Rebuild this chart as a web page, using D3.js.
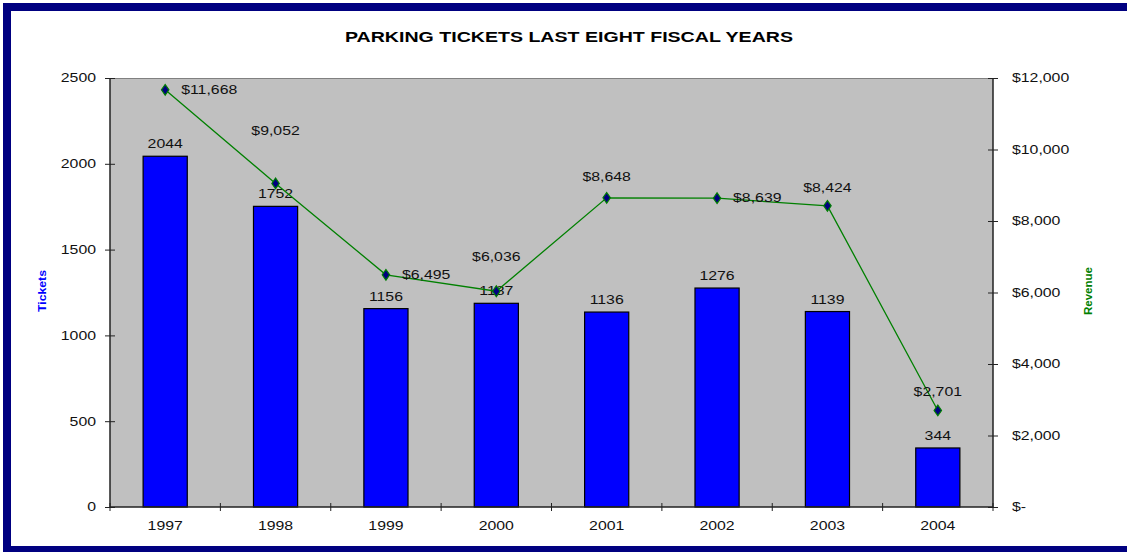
<!DOCTYPE html>
<html>
<head>
<meta charset="utf-8">
<script src="https://cdn.jsdelivr.net/npm/d3@7"></script>
<style>
  html, body { margin: 0; padding: 0; background: #fff; }
  svg { display: block; font-family: Arial, "Liberation Sans", sans-serif; }
</style>
</head>
<body>
<div id="chart"></div>
<script>
// Chart data
const years = ['1997', '1998', '1999', '2000', '2001', '2002', '2003', '2004'];
const tickets = [2044, 1752, 1156, 1187, 1136, 1276, 1139, 344];
const revenue = [11668, 9052, 6495, 6036, 8648, 8639, 8424, 2701];
const ticketTicks = [0, 500, 1000, 1500, 2000, 2500];
const revenueTicks = [0, 2000, 4000, 6000, 8000, 10000, 12000];

// Where each revenue label sits relative to its point
const revLabelPlace = ['right', 'above', 'right', 'above', 'above', 'right', 'above', 'above'];
const revLabelLift = [0, 53, 0, 34, 21, 0, 18, 19];

const W = 1127, H = 552;
const margin = { top: 78, right: 134, bottom: 45, left: 110 };
const plotW = W - margin.left - margin.right;
const plotH = H - margin.top - margin.bottom;

// the original picture is stretched sideways, so text is widened to match
const SX = 1.32;
const FS = '12px';

function stretch(sel, sx) {
    sel.each(function() {
        const t = d3.select(this);
        const x0 = +t.attr('x') || 0;
        const y0 = +t.attr('y') || 0;
        t.attr('x', 0).attr('y', 0)
            .attr('transform', `translate(${x0},${y0}) scale(${sx},1)`);
    });
}

const svg = d3.select('#chart')
    .append('svg')
    .attr('width', W)
    .attr('height', H);

// Navy frame
svg.append('rect')
    .attr('x', 7).attr('y', 7)
    .attr('width', W + 10).attr('height', H - 9)
    .attr('fill', '#fff')
    .attr('stroke', '#000080')
    .attr('stroke-width', 8);

// Title
svg.append('text')
    .attr('x', 569).attr('y', 42)
    .attr('text-anchor', 'middle')
    .attr('font-size', '14px')
    .attr('font-weight', 'bold')
    .attr('fill', '#000')
    .attr('textLength', 448)
    .attr('lengthAdjust', 'spacingAndGlyphs')
    .text('PARKING TICKETS LAST EIGHT FISCAL YEARS');

const g = svg.append('g')
    .attr('transform', `translate(${margin.left},${margin.top})`);

// Scales
const x = d3.scaleBand()
    .domain(years)
    .range([0, plotW])
    .paddingInner(0.6)
    .paddingOuter(0.3);

const yT = d3.scaleLinear().domain([0, 2500]).range([plotH, 0]);
const yR = d3.scaleLinear().domain([0, 12000]).range([plotH, 0]);

// Plot background
g.append('rect')
    .attr('width', plotW)
    .attr('height', plotH)
    .attr('fill', '#c0c0c0');

g.append('line')
    .attr('x1', 0).attr('x2', plotW)
    .attr('y1', 0.5).attr('y2', 0.5)
    .attr('stroke', '#808080')
    .attr('stroke-width', 1);

// Bars
g.selectAll('.bar')
    .data(tickets)
    .enter()
    .append('rect')
    .attr('class', 'bar')
    .attr('x', (d, i) => x(years[i]))
    .attr('y', d => yT(d))
    .attr('width', x.bandwidth())
    .attr('height', d => plotH - yT(d))
    .attr('fill', '#0000ff')
    .attr('stroke', '#000')
    .attr('stroke-width', 1.2);

// Bar labels
const barLabels = g.selectAll('.bar-label')
    .data(tickets)
    .enter()
    .append('text')
    .attr('class', 'bar-label')
    .attr('x', (d, i) => x(years[i]) + x.bandwidth() / 2)
    .attr('y', d => yT(d) - 8)
    .attr('text-anchor', 'middle')
    .attr('font-size', FS)
    .attr('fill', '#111')
    .text(d => d);
stretch(barLabels, SX);

// Revenue line
const cx = i => x(years[i]) + x.bandwidth() / 2;
const line = d3.line()
    .x((d, i) => cx(i))
    .y(d => yR(d));

g.append('path')
    .datum(revenue)
    .attr('d', line)
    .attr('fill', 'none')
    .attr('stroke', '#008000')
    .attr('stroke-width', 1.3);

g.selectAll('.marker')
    .data(revenue)
    .enter()
    .append('path')
    .attr('class', 'marker')
    .attr('d', d3.symbol().type(d3.symbolDiamond).size(34))
    .attr('transform', (d, i) => `translate(${cx(i)},${yR(d)}) scale(1.2,1)`)
    .attr('fill', '#000080')
    .attr('stroke', '#008000')
    .attr('stroke-width', 1);

const money = d3.format(',');
const revLabels = g.selectAll('.rev-label')
    .data(revenue)
    .enter()
    .append('text')
    .attr('class', 'rev-label')
    .attr('x', (d, i) => revLabelPlace[i] === 'right' ? cx(i) + 16 : cx(i))
    .attr('y', (d, i) => yR(d) - revLabelLift[i])
    .attr('dy', '0.35em')
    .attr('text-anchor', (d, i) => revLabelPlace[i] === 'right' ? 'start' : 'middle')
    .attr('font-size', FS)
    .attr('fill', '#111')
    .text(d => '$' + money(d));
stretch(revLabels, SX);

// Axes
const axisColor = '#222';

const leftAxis = g.append('g')
    .call(d3.axisLeft(yT).tickValues(ticketTicks).tickSize(5).tickPadding(9)
        .tickFormat(d3.format('d')));
leftAxis.selectAll('.tick line').attr('x2', 5).attr('x1', -5);

const rightAxis = g.append('g')
    .attr('transform', `translate(${plotW},0)`)
    .call(d3.axisRight(yR).tickValues(revenueTicks).tickSize(5).tickPadding(14)
        .tickFormat(d => d === 0 ? '$-' : '$' + money(d)));
rightAxis.selectAll('.tick line').attr('x1', -5).attr('x2', 5);

// Category axis with ticks between categories
const bottomAxis = g.append('g')
    .attr('transform', `translate(0,${plotH})`)
    .call(d3.axisBottom(x).tickSize(0).tickPadding(14));
const step = x.step();
bottomAxis.selectAll('.sep')
    .data(d3.range(years.length + 1))
    .enter()
    .append('line')
    .attr('class', 'sep')
    .attr('x1', i => i * step).attr('x2', i => i * step)
    .attr('y1', -4).attr('y2', 4)
    .attr('stroke', axisColor);

[leftAxis, rightAxis, bottomAxis].forEach(a => {
    a.select('.domain').attr('stroke', axisColor).attr('stroke-width', 1.5);
    a.selectAll('.tick line').attr('stroke', axisColor);
    a.selectAll('.tick text').attr('font-size', FS).attr('fill', '#111')
        .attr('font-family', 'Arial, "Liberation Sans", sans-serif');
    stretch(a.selectAll('.tick text'), SX);
});
leftAxis.select('.domain').attr('d', `M0,0V${plotH}`);
rightAxis.select('.domain').attr('d', `M0,0V${plotH}`);
bottomAxis.select('.domain').attr('d', `M0,0H${plotW}`);

// Axis titles
svg.append('text')
    .attr('transform', 'translate(46,291) rotate(-90)')
    .attr('text-anchor', 'middle')
    .attr('font-size', '11px')
    .attr('font-weight', 'bold')
    .attr('fill', '#0000ff')
    .attr('textLength', 42)
    .attr('lengthAdjust', 'spacingAndGlyphs')
    .text('Tickets');

svg.append('text')
    .attr('transform', 'translate(1092,291) rotate(-90)')
    .attr('text-anchor', 'middle')
    .attr('font-size', '11px')
    .attr('font-weight', 'bold')
    .attr('fill', '#008000')
    .attr('textLength', 48)
    .attr('lengthAdjust', 'spacingAndGlyphs')
    .text('Revenue');
</script>
</body>
</html>
